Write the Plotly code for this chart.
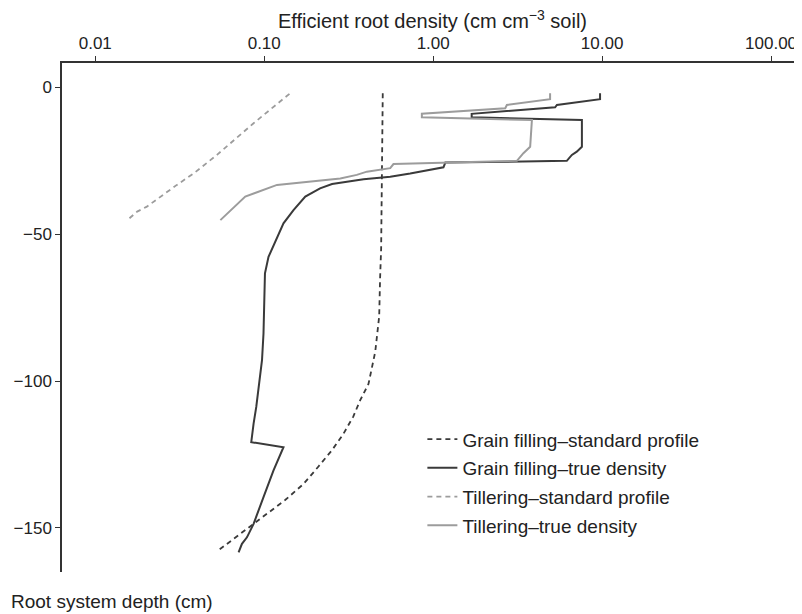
"""Root density profiles: grain filling vs tillering, standard profile vs true density."""
import plotly.graph_objects as go

FONT = "Liberation Sans, Arial, Helvetica, sans-serif"

C_DARK = "#3a3a3a"
C_GREY = "#9c9c9c"

# Grain filling - standard profile (cm cm-3 soil vs depth cm)
gf_std_depth = [-2, -20, -40, -55, -65, -78, -90, -101, -106.5, -112, -118, -123.5,
                -129, -135, -140.5, -146, -152, -158]
gf_std_dens = [0.503, 0.50, 0.497, 0.492, 0.485, 0.479, 0.454, 0.414, 0.370, 0.337,
               0.294, 0.252, 0.210, 0.171, 0.133, 0.099, 0.072, 0.0525]

# Grain filling - true density
gf_true_depth = [-2, -4, -6, -6.8, -9, -10.2, -11.1, -20.2, -21.9, -23, -25, -25.6,
                 -27.2, -28.1, -29.3, -30.4, -31.3, -32.9, -34.4, -37.2, -41.8, -46.3,
                 -51.4, -57.7, -63.3, -72.5, -83.8, -92.9, -103.1, -108.8, -114.5,
                 -120.8, -122.5, -130.4, -139.5, -148.6, -153.2, -155.4, -158.3]
gf_true_dens = [9.72, 9.72, 5.40, 5.27, 1.69, 1.69, 7.59, 7.59, 7.08, 6.62, 6.18, 1.18,
                1.15, 0.959, 0.731, 0.557, 0.387, 0.252, 0.214, 0.175, 0.149, 0.130,
                0.119, 0.106, 0.101, 0.100, 0.099, 0.097, 0.0925, 0.0897, 0.0865,
                0.0838, 0.130, 0.1135, 0.099, 0.0865, 0.079, 0.0738, 0.0705]

# Tillering - standard profile
til_std_depth = [-2.2, -12.2, -23.0, -29.3, -33.2, -37.2, -40.6, -42.3, -44.6]
til_std_dens = [0.141, 0.0865, 0.0525, 0.0382, 0.0304, 0.0243, 0.0202, 0.0177, 0.0159]

# Tillering - true density
til_true_depth = [-2, -4, -6, -7.1, -9, -10.2, -11.1, -20.2, -22.4, -25, -26.1, -27.5,
                  -28.7, -29.8, -31, -32.1, -33.2, -37.2, -45.2]
til_true_dens = [4.92, 4.92, 2.73, 2.67, 0.857, 0.857, 3.84, 3.75, 3.42, 3.13, 0.582,
                 0.557, 0.405, 0.353, 0.282, 0.179, 0.119, 0.0772, 0.055]

x_ticks = [0.01, 0.1, 1, 10, 100]
x_ticktext = ["0.01", "0.10", "1.00", "10.00", "100.00"]
y_ticks = [0, -50, -100, -150]
y_ticktext = ["0", "\u221250", "\u2212100", "\u2212150"]

fig = go.Figure()

fig.add_trace(go.Scatter(x=gf_std_dens, y=gf_std_depth, mode="lines",
    name="Grain filling\u2013standard profile",
    line=dict(color=C_DARK, width=1.8, dash="5px,4px"), legendgroup="a"))
fig.add_trace(go.Scatter(x=gf_true_dens, y=gf_true_depth, mode="lines",
    name="Grain filling\u2013true density",
    line=dict(color=C_DARK, width=2), legendgroup="b"))
fig.add_trace(go.Scatter(x=til_std_dens, y=til_std_depth, mode="lines",
    name="Tillering\u2013standard profile",
    line=dict(color=C_GREY, width=1.8, dash="5px,4px"), legendgroup="c"))
fig.add_trace(go.Scatter(x=til_true_dens, y=til_true_depth, mode="lines",
    name="Tillering\u2013true density",
    line=dict(color=C_GREY, width=2), legendgroup="d"))

fig.update_xaxes(type="log", side="top", range=[-2.197, 2.183],
                 tickvals=x_ticks, ticktext=x_ticktext,
                 ticks="outside", ticklen=5, tickcolor="#333",
                 showline=True, linecolor="#333", linewidth=1.5,
                 showgrid=False, zeroline=False, tickfont=dict(size=17))
fig.update_yaxes(range=[-165, 8.3], tickvals=y_ticks, ticktext=y_ticktext,
                 ticks="outside", ticklen=5, tickcolor="#333",
                 showline=True, linecolor="#333", linewidth=1.5,
                 showgrid=False, zeroline=False, tickfont=dict(size=17))

fig.add_annotation(text="Efficient root density (cm cm<sup>\u22123</sup> soil)",
                   xref="paper", yref="paper", x=0.5, y=1.085,
                   xanchor="center", yanchor="middle", showarrow=False,
                   font=dict(size=20))
fig.add_annotation(text="Root system depth (cm)",
                   xref="paper", yref="paper", x=-0.072, y=-0.057,
                   xanchor="left", yanchor="middle", showarrow=False,
                   font=dict(size=19))

# page body has an 8px margin, so the figure is shifted 8px right/down
fig.update_layout(
    font=dict(family=FONT, size=17, color="#222"),
    paper_bgcolor="white",
    plot_bgcolor="white",
    width=794, height=606,
    margin=dict(l=54, r=0, t=55, b=42),
    showlegend=True,
    legend=dict(x=0.487, y=0.298, xanchor="left", yanchor="top",
                font=dict(size=19), tracegroupgap=1, bgcolor="rgba(0,0,0,0)"),
)

fig.write_html("out.html")
